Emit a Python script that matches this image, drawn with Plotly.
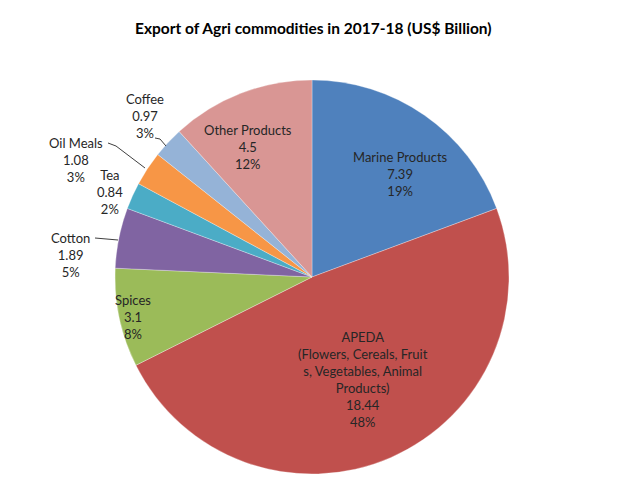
import plotly.graph_objects as go

labels = ["Marine Products", "APEDA", "Spices", "Cotton", "Tea", "Oil Meals", "Coffee", "Other Products"]
display_names = ["Marine Products", "APEDA<br>(Flowers, Cereals, Fruit<br>s, Vegetables, Animal<br>Products)",
                 "Spices", "Cotton", "Tea", "Oil Meals", "Coffee", "Other Products"]
values = [7.39, 18.44, 3.1, 1.89, 0.84, 1.08, 0.97, 4.5]
percents = ["19%", "48%", "8%", "5%", "2%", "3%", "3%", "12%"]
colors = ["#4F81BD", "#C0504D", "#9BBB59", "#8064A2", "#4BACC6", "#F79646", "#95B3D7", "#D99694"]

W, H = 630, 481
OFF = 8  # page body margin


def fx(px):
    return (px - OFF) / W


def fy(py):
    return 1 - (py - OFF) / H


fig = go.Figure(go.Pie(
    labels=labels, values=values, sort=False, direction="clockwise", rotation=0,
    marker=dict(colors=colors, line=dict(color="rgba(255,255,255,0.6)", width=0.5)),
    textinfo="none", hoverinfo="label+value+percent", showlegend=False,
    domain=dict(x=[fx(114), fx(510)], y=[fy(474), fy(80)]),
))

label_pos = {
    "Marine Products": (400, 174),
    "APEDA": (363, 379),
    "Spices": (133, 317),
    "Cotton": (70, 255),
    "Tea": (110, 192),
    "Oil Meals": (76, 160),
    "Coffee": (145, 116),
    "Other Products": (248, 147),
}
annotations = []
for name, disp, v, p in zip(labels, display_names, values, percents):
    px, py = label_pos[name]
    annotations.append(dict(
        x=fx(px), y=fy(py), xref="paper", yref="paper", showarrow=False,
        text=f"{disp}<br>{v:g}<br>{p}", align="center",
        font=dict(family="Lato, Arial", size=13, color="#262626"),
        xanchor="center", yanchor="middle",
    ))

annotations.append(dict(
    x=fx(313), y=fy(28), xref="paper", yref="paper", showarrow=False,
    text="<b>Export of Agri commodities in 2017-18 (US$ Billion)</b>",
    font=dict(family="Lato, Arial", size=15.5, color="#000000"),
    xanchor="center", yanchor="middle",
))

leaders = [
    [(155, 138), (160, 139), (166, 146)],
    [(108, 143), (116, 146), (145, 168)],
    [(95, 238), (118, 240)],
]
shapes = []
for pts in leaders:
    for (x0, y0), (x1, y1) in zip(pts[:-1], pts[1:]):
        shapes.append(dict(type="line", xref="paper", yref="paper",
                           x0=fx(x0), y0=fy(y0), x1=fx(x1), y1=fy(y1),
                           line=dict(color="#404040", width=1)))

fig.update_layout(
    width=W, height=H, margin=dict(l=0, r=0, t=0, b=0),
    paper_bgcolor="white", plot_bgcolor="white",
    annotations=annotations, shapes=shapes,
)
fig.write_html("out.html")
